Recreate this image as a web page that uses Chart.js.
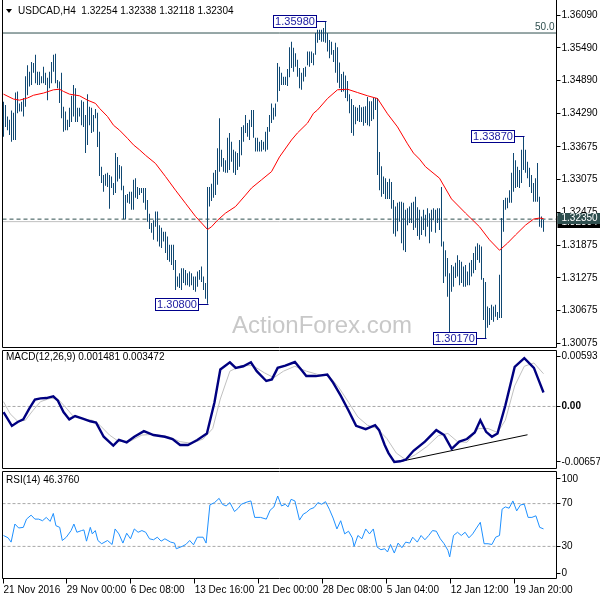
<!DOCTYPE html>
<html>
<head>
<meta charset="utf-8">
<title>USDCAD H4</title>
<script src="https://cdn.jsdelivr.net/npm/chart.js@4.4.1/dist/chart.umd.min.js"></script>
<style>
html,body{margin:0;padding:0;background:#fff;}
body{width:600px;height:600px;position:relative;overflow:hidden;}
canvas{position:absolute;left:0;display:block;}
</style>
</head>
<body>
<canvas id="cMain" width="600" height="348" style="top:0"></canvas>
<canvas id="cMacd" width="600" height="122" style="top:348px"></canvas>
<canvas id="cRsi" width="600" height="130" style="top:470px"></canvas>
<script>
const FONT = '"Liberation Sans", Arial, sans-serif';
Chart.defaults.font.family = FONT;
Chart.defaults.font.size = 10;
Chart.defaults.color = '#000';

// ---------- data ----------
const symbolTitle = 'USDCAD,H4';
const lastOHLC = ['1.32254', '1.32338', '1.32118', '1.32304'];

const highs = [
1.3450,1.3444,1.3423,1.3417,1.3434,1.3430,1.3467,1.3469,1.3447,1.3450,
1.3457,1.3497,1.3517,1.3505,1.3523,1.3521,1.3536,1.3505,1.3505,1.3497,
1.3514,1.3503,1.3494,1.3505,1.3523,1.3536,1.3538,1.3490,1.3487,1.3503,
1.3441,1.3432,1.3417,1.3439,1.3461,1.3481,1.3475,1.3439,1.3439,1.3453,
1.3450,1.3426,1.3464,1.3441,1.3439,1.3426,1.3437,1.3430,1.3395,1.3331,
1.3316,1.3318,1.3320,1.3316,1.3313,1.3301,1.3356,1.3349,1.3334,1.3332,
1.3296,1.3279,1.3281,1.3285,1.3285,1.3307,1.3310,1.3294,1.3292,1.3292,
1.3292,1.3292,1.3270,1.3245,1.3228,1.3233,1.3249,1.3249,1.3224,1.3219,
1.3212,1.3212,1.3203,1.3188,1.3188,1.3188,1.3160,1.3130,1.3136,1.3145,
1.3145,1.3142,1.3136,1.3139,1.3136,1.3130,1.3130,1.3139,1.3142,1.3148,
1.3130,1.3118,1.3294,1.3294,1.3300,1.3320,1.3325,1.3365,1.3420,1.3362,
1.3347,1.3343,1.3384,1.3393,1.3377,1.3362,1.3359,1.3356,1.3380,1.3404,
1.3407,1.3426,1.3411,1.3417,1.3435,1.3435,1.3384,1.3384,1.3377,1.3380,
1.3377,1.3395,1.3404,1.3426,1.3447,1.3439,1.3447,1.3521,1.3514,1.3503,
1.3496,1.3496,1.3510,1.3550,1.3560,1.3549,1.3539,1.3527,1.3512,1.3503,
1.3512,1.3514,1.3542,1.3542,1.3542,1.3539,1.3576,1.3582,1.3582,1.3582,
1.3585,1.3598,1.3576,1.3563,1.3560,1.3545,1.3558,1.3550,1.3522,1.3501,
1.3505,1.3498,1.3488,1.3464,1.3455,1.3444,1.3441,1.3439,1.3444,1.3440,
1.3441,1.3442,1.3459,1.3451,1.3451,1.3457,1.3457,1.3457,1.3358,1.3332,
1.3313,1.3310,1.3303,1.3309,1.3303,1.3270,1.3258,1.3265,1.3267,1.3267,
1.3265,1.3252,1.3255,1.3258,1.3265,1.3267,1.3276,1.3257,1.3252,1.3240,
1.3252,1.3243,1.3255,1.3246,1.3252,1.3255,1.3252,1.3255,1.3255,1.3294,
1.3194,1.3178,1.3164,1.3136,1.3151,1.3148,1.3155,1.3169,1.3160,1.3157,
1.3148,1.3151,1.3139,1.3155,1.3160,1.3173,1.3185,1.3191,1.3188,1.3185,
1.3127,1.3120,1.3075,1.3072,1.3078,1.3075,1.3078,1.3065,1.3133,1.3237,
1.3270,1.3274,1.3274,1.3288,1.3320,1.3356,1.3343,1.3331,1.3325,1.3362,
1.3387,1.3362,1.3340,1.3329,1.3316,1.3301,1.3310,1.3338,1.3276,1.3240,
1.3234];

const lows = [
1.3386,1.3404,1.3398,1.3389,1.3377,1.3380,1.3380,1.3429,1.3432,1.3432,
1.3423,1.3441,1.3462,1.3478,1.3481,1.3503,1.3484,1.3481,1.3481,1.3484,
1.3484,1.3481,1.3453,1.3475,1.3484,1.3505,1.3484,1.3475,1.3448,1.3420,
1.3395,1.3398,1.3398,1.3404,1.3413,1.3423,1.3413,1.3413,1.3423,1.3407,
1.3404,1.3356,1.3371,1.3407,1.3393,1.3395,1.3420,1.3367,1.3314,1.3301,
1.3285,1.3296,1.3294,1.3254,1.3292,1.3279,1.3283,1.3304,1.3309,1.3288,
1.3235,1.3235,1.3265,1.3263,1.3252,1.3252,1.3274,1.3272,1.3279,1.3283,
1.3265,1.3252,1.3230,1.3217,1.3210,1.3197,1.3221,1.3194,1.3185,1.3182,
1.3194,1.3173,1.3160,1.3157,1.3151,1.3142,1.3105,1.3111,1.3109,1.3105,
1.3118,1.3114,1.3114,1.3111,1.3114,1.3105,1.3102,1.3111,1.3124,1.3120,
1.3105,1.3089,1.3080,1.3258,1.3268,1.3274,1.3279,1.3298,1.3322,1.3331,
1.3322,1.3320,1.3320,1.3325,1.3340,1.3320,1.3316,1.3325,1.3331,1.3352,
1.3377,1.3393,1.3386,1.3380,1.3404,1.3384,1.3359,1.3359,1.3359,1.3359,
1.3362,1.3359,1.3362,1.3395,1.3411,1.3417,1.3423,1.3450,1.3470,1.3481,
1.3481,1.3481,1.3479,1.3495,1.3512,1.3505,1.3514,1.3496,1.3475,1.3472,
1.3487,1.3496,1.3517,1.3514,1.3521,1.3517,1.3536,1.3558,1.3563,1.3560,
1.3560,1.3558,1.3542,1.3530,1.3536,1.3523,1.3503,1.3485,1.3475,1.3468,
1.3469,1.3457,1.3451,1.3429,1.3393,1.3388,1.3409,1.3415,1.3413,1.3413,
1.3406,1.3411,1.3407,1.3405,1.3415,1.3418,1.3435,1.3316,1.3288,1.3276,
1.3281,1.3272,1.3272,1.3272,1.3254,1.3208,1.3203,1.3213,1.3230,1.3191,
1.3178,1.3175,1.3224,1.3228,1.3228,1.3215,1.3219,1.3204,1.3197,1.3206,
1.3215,1.3203,1.3221,1.3191,1.3212,1.3233,1.3210,1.3228,1.3215,1.3185,
1.3118,1.3130,1.3093,1.3026,1.3102,1.3111,1.3127,1.3130,1.3114,1.3118,
1.3111,1.3111,1.3114,1.3114,1.3130,1.3136,1.3142,1.3160,1.3155,1.3124,
1.3050,1.3017,1.3036,1.3041,1.3050,1.3047,1.3056,1.3050,1.3054,1.3054,
1.3212,1.3252,1.3255,1.3265,1.3265,1.3285,1.3292,1.3294,1.3292,1.3301,
1.3325,1.3320,1.3310,1.3294,1.3283,1.3267,1.3267,1.3267,1.3221,1.3219,
1.3212];

// moving average (red) read at these bar positions
const maIdx = [0,5,8,12,15,20,25,28,30,33,38,42,46,48,52,55,58,62,65,68,71,76,81,86,91,96,99,102,104,107,111,116,121,124,129,134,138,144,147,152,155,157,162,167,172,177,182,187,192,197,202,205,208,211,218,224,231,238,243,248,252,256,261,265,268,270];
const maVal = [1.3464,1.3455,1.3453,1.3457,1.3462,1.3466,1.3472,1.3473,1.3469,1.3464,1.3461,1.3453,1.3447,1.3438,1.3423,1.3407,1.3398,1.3383,1.3371,1.3362,1.3352,1.3337,1.3313,1.3288,1.3264,1.3240,1.3228,1.3216,1.3221,1.3233,1.3246,1.3258,1.3279,1.3292,1.3307,1.3322,1.3349,1.3380,1.3393,1.3411,1.3429,1.3435,1.3456,1.3472,1.3473,1.3467,1.3461,1.3456,1.3428,1.3404,1.3373,1.3356,1.3345,1.3331,1.3310,1.3272,1.3246,1.3221,1.3197,1.3178,1.3191,1.3206,1.3224,1.3235,1.3237,1.3236];

// MACD main line
const macdIdx = [0,4.2,7.1,9.9,12.8,15.7,18.5,21.4,24.9,27.2,30,32.9,35.8,39.6,43.4,46.3,50.1,54.9,57.7,61.6,65.4,70.2,75,80.7,84.5,88.3,92.2,96.9,101.7,105.5,108.4,113.2,116.1,119.9,123.7,126.6,131.4,134.2,137.1,140.9,145.7,149.5,151.4,156.2,161.9,164.8,168.6,172.5,176.3,181.1,185.8,187.8,190.6,192.5,195.4,198.3,201.1,205,210.7,216.4,220.3,224.1,227.9,231.7,235.6,238.4,241.3,244.2,247,250.9,255.6,260.4,265.2,267.1,270];
const macdVal = [-0.00060,-0.00206,-0.00164,-0.00137,-0.00025,0.00072,0.00086,0.00089,0.00107,0.00061,-0.00060,-0.00137,-0.00102,-0.00130,-0.00157,-0.00171,-0.00321,-0.00414,-0.00355,-0.00380,-0.00321,-0.00262,-0.00303,-0.00321,-0.00345,-0.00408,-0.00408,-0.00355,-0.00286,0.00044,0.00392,0.00468,0.00409,0.00426,0.00468,0.00374,0.00270,0.00287,0.00409,0.00433,0.00471,0.00374,0.00322,0.00322,0.00339,0.00253,0.00114,-0.00043,-0.00206,-0.00241,-0.00199,-0.00251,-0.00408,-0.00494,-0.00588,-0.00581,-0.00564,-0.00470,-0.00373,-0.00251,-0.00303,-0.00449,-0.00373,-0.00345,-0.00276,-0.00147,-0.00269,-0.00321,-0.00286,0.00009,0.00419,0.00513,0.00409,0.00305,0.001481];

// MACD signal line
const sigIdx = [0,3.3,7.1,10.9,14.7,18.5,23.3,27.2,31,34.8,39.6,44.4,48.2,53,57.7,63.5,69.2,75,82.6,88.3,94.1,99.8,104.6,108.4,113.2,118.9,124.7,130.4,135.2,140,145.7,151.4,157.2,162.9,167.7,172.5,177.2,182,186.8,191.6,196.4,201.1,205.9,211.7,217.4,222.2,227,231.7,237.5,242.3,247,250.9,255.6,260.4,265.2,270];
const sigVal = [0.00051,-0.00077,-0.00157,-0.00147,-0.00043,0.00051,0.00086,0.00079,-0.00008,-0.00102,-0.00130,-0.00147,-0.00199,-0.00303,-0.00373,-0.00366,-0.00303,-0.00296,-0.00321,-0.00373,-0.00390,-0.00345,-0.00234,0.00079,0.00374,0.00433,0.00433,0.00357,0.00305,0.00374,0.00426,0.00374,0.00339,0.00322,0.00200,0.00044,-0.00112,-0.00199,-0.00234,-0.00338,-0.00494,-0.00564,-0.00512,-0.00425,-0.00310,-0.00286,-0.00373,-0.00380,-0.00234,-0.00234,-0.00276,-0.00147,0.00218,0.00426,0.00461,0.003472];

// trend line drawn on the MACD window
const macdTrendIdx = [199, 262];
const macdTrendVal = [-0.0058, -0.0030];

// RSI(14)
const rsiIdx = [0,2.3,3.8,5.7,7.6,9.9,11.5,13.8,15.7,17.6,19.5,21.4,23.3,24.9,26.2,28.1,29.4,31.4,33.8,35.2,36.7,39,40.2,41.5,43.4,44.4,45.9,47.2,49.1,52,54.3,55.8,57.7,59.7,61.6,63.5,65.4,67.3,69.2,71.1,73,75,76.9,78.8,80.7,83.6,85.5,86.4,89.3,91.2,93.1,95,96.9,99.8,101.3,103.2,105.5,107.8,109.4,111.3,113.2,115.5,117.4,118.9,121.8,123.7,125.6,128.5,131.4,133.3,135.2,137.1,139,140.9,142.3,143.8,145.7,148,149.9,151.4,153.3,155.3,157.2,159.1,161,162.9,164.8,166.7,168.6,170.6,172.5,174.4,175.3,177.2,179.2,181.1,183,184.9,186.8,188.7,190.6,192,193.5,195.4,197.3,199.2,201.1,203.1,204.6,206.9,208.8,210.7,212.6,214.5,216.4,218.4,220.3,222.2,223.1,225,227,228.9,230.8,232.7,234.6,236.5,238.4,240.3,242.3,244.2,246.1,248,249.3,250.9,252.8,254.7,256.6,258.5,260.4,262.3,264.2,266.2,268.1,270];
const rsiVal = [40.2,38.0,34.0,50.9,47.2,47.8,55.5,59.2,55.5,55.5,54.0,57.1,53.4,60.8,49.4,47.8,35.5,38.6,44.8,50.9,43.2,44.8,45.4,34.9,47.8,41.7,44.8,35.5,32.5,35.5,31.8,46.3,41.7,33.1,42.3,37.1,46.3,43.2,44.8,43.2,37.1,36.2,38.6,34.9,37.1,34.0,33.1,27.8,30.0,31.8,35.5,31.5,38.6,38.6,33.1,68.8,70.9,74.9,69.4,67.8,70.9,62.6,65.7,69.4,71.5,72.5,57.1,57.1,55.5,63.8,66.9,77.1,67.8,69.4,66.9,74.0,72.5,54.6,60.2,61.7,64.8,66.3,70.9,69.4,71.8,64.8,56.5,46.3,54.0,41.7,44.2,38.0,30.0,40.2,37.1,46.3,41.7,46.3,29.4,26.9,27.8,24.8,31.8,23.8,33.1,28.8,34.0,33.1,38.6,34.0,40.2,36.2,40.2,44.8,44.2,37.1,32.5,26.3,20.2,40.2,43.2,40.2,43.2,38.0,41.7,47.2,52.5,32.5,32.5,31.8,38.6,40.2,64.8,66.9,65.7,72.5,63.2,68.8,69.4,57.1,57.1,58.6,47.8,46.376];

// axis ticks
const priceTicks = [1.36090,1.35490,1.34890,1.34290,1.33675,1.33075,1.32475,1.31875,1.31275,1.30675,1.30075];
const priceMin = 1.29998, priceMax = 1.36356;
const timeTickIdx = [0,31.6,63.6,95.6,127.6,159.6,191.6,223.6,255.6];
const timeLabels = ['21 Nov 2016','29 Nov 00:00','6 Dec 08:00','13 Dec 16:00','21 Dec 00:00','28 Dec 08:00','5 Jan 04:00','12 Jan 12:00','19 Jan 20:00'];
const macdMin = -0.006575, macdMax = 0.00593;
const macdTickVals = [0.005294, 0, -0.005886];
const macdTickLabels = ['0.00593', '0.00', '-0.006575'];
const rsiTickVals = [93, 70, 30, 5];
const rsiTickLabels = ['100', '70', '30', '0'];
const rsiLevels = [70, 30];

// annotations
const swingIdx = [161, 102, 241, 260];
const swingPrice = [1.3598, 1.3080, 1.3017, 1.3387];
const swingText = ['1.35980', '1.30800', '1.30170', '1.33870'];
const hLevel = 1.32350, hLevelText = '1.32350';
const bidPrice = 1.32304, bidText = '1.32304';
const fibLevel = 1.3576, fibText = '50.0';
const watermark = 'ActionForex.com';

// ---------- helpers ----------
const X_MIN = -0.5, X_MAX = 276.5;
const AXIS_W = 43.5;
const BAR_COLOR = '#104872';

function xAxis(show) {
  return {
    type: 'linear', min: X_MIN, max: X_MAX, offset: false, display: show,
    grid: { offset: false, drawOnChartArea: false, tickLength: 5, color: '#000' },
    border: { display: false },
    afterBuildTicks: s => { s.ticks = timeTickIdx.map(v => ({ value: v })); },
    afterFit: s => { s.paddingLeft = 0; s.paddingRight = 0; if (show) s.height = 21.5; },
    ticks: { autoSkip: false, maxRotation: 0, minRotation: 0, align: 'start', padding: 1, color: '#000',
      font: { size: 10 }, callback: (v, i) => timeLabels[i] }
  };
}
function yAxis(min, max, vals, fmt) {
  return {
    position: 'right', min, max,
    grid: { drawOnChartArea: false, tickLength: 4, color: '#000' },
    border: { display: false },
    afterBuildTicks: s => { s.ticks = vals.map(v => ({ value: v })); },
    afterFit: s => { s.width = AXIS_W; s.paddingTop = 0; s.paddingBottom = 0; },
    ticks: { autoSkip: false, padding: 1, color: '#000',
      font: ctx => ({ size: 10, weight: (ctx.tick && ctx.tick.value === 0) ? 'bold' : 'normal' }),
      callback: fmt }
  };
}
function framePlugin(withTop) {
  return {
    id: 'frame',
    afterDraw(chart) {
      const a = chart.chartArea, c = chart.ctx;
      c.save(); c.strokeStyle = '#000'; c.lineWidth = 1;
      c.beginPath();
      if (withTop) { c.moveTo(a.left, a.top); c.lineTo(a.right, a.top); }
      c.moveTo(a.left, withTop ? a.top : 0); c.lineTo(a.left, a.bottom); c.lineTo(a.right, a.bottom);
      c.lineTo(a.right, withTop ? a.top : 0);
      c.stroke();
      c.restore();
    }
  };
}
function hline(x0, x1, v, color, dash, order) {
  return { type: 'line', data: [{ x: x0, y: v }, { x: x1, y: v }], borderColor: color, borderWidth: 1,
    borderDash: dash || [], pointRadius: 0, order: order };
}
const baseOpts = {
  responsive: false, animation: false, events: [],
  plugins: { legend: { display: false }, tooltip: { enabled: false } },
  elements: { point: { radius: 0 }, line: { tension: 0 } }
};

// ---------- main price window ----------
const mainDecor = {
  id: 'mainDecor',
  beforeDatasetsDraw(chart) {
    const c = chart.ctx;
    c.save();
    c.font = '24px ' + FONT; c.fillStyle = '#c8c8c8'; c.textAlign = 'center'; c.textBaseline = 'alphabetic';
    c.fillText(watermark, 322, 333);
    c.restore();
  },
  afterDraw(chart) {
    const c = chart.ctx, xs = chart.scales.x, ys = chart.scales.y, a = chart.chartArea;
    c.save();
    // header
    c.fillStyle = '#000';
    c.beginPath(); c.moveTo(6, 9); c.lineTo(12, 9); c.lineTo(9, 13); c.closePath(); c.fill();
    c.font = '10px ' + FONT; c.textBaseline = 'middle'; c.textAlign = 'left';
    c.fillText(symbolTitle + '  ' + lastOHLC.join(' '), 18, 11.5);
    // fib label
    c.fillStyle = '#2f4f4f'; c.textAlign = 'right'; c.textBaseline = 'alphabetic';
    c.fillText(fibText, a.right - 2, ys.getPixelForValue(fibLevel) - 3);
    // price boxes on the axis
    const yb = ys.getPixelForValue(bidPrice);
    c.fillStyle = '#000'; c.fillRect(a.right + 1, Math.round(yb) - 6, 600 - a.right, 12);
    c.fillStyle = '#fff'; c.textAlign = 'left'; c.textBaseline = 'middle';
    c.fillText(bidText, a.right + 5, Math.round(yb));
    const yh = ys.getPixelForValue(hLevel);
    c.fillStyle = '#2f4f4f'; c.fillRect(a.right + 1, Math.round(yh) - 6, 600 - a.right, 11);
    c.fillStyle = '#fff'; c.fillText(hLevelText, a.right + 5, Math.round(yh) - 0.5);
    // swing labels
    for (let k = 0; k < swingIdx.length; k++) {
      const px = Math.round(xs.getPixelForValue(swingIdx[k])) + 0.5;
      const py = Math.round(ys.getPixelForValue(swingPrice[k])) + 0.5;
      const w = 43, h = 12, right = px - 10;
      c.fillStyle = '#fff'; c.fillRect(right - w, py - h / 2, w, h);
      c.strokeStyle = '#00008b'; c.lineWidth = 1; c.strokeRect(right - w, py - h / 2, w, h);
      c.beginPath(); c.moveTo(right, py); c.lineTo(px, py); c.stroke();
      c.fillStyle = '#1a1aa0'; c.textAlign = 'center'; c.textBaseline = 'middle';
      c.font = '11px ' + FONT;
      c.fillText(swingText[k], right - w / 2, py + 0.5);
      c.font = '10px ' + FONT;
    }
    c.restore();
  }
};

new Chart(document.getElementById('cMain'), {
  type: 'bar',
  data: { datasets: [
    { type: 'line', data: maIdx.map((x, k) => ({ x, y: maVal[k] })), borderColor: '#ff0000', borderWidth: 1, pointRadius: 0, order: 0 },
    { type: 'bar', data: highs.map((h, i) => ({ x: i, y: [lows[i], h] })), backgroundColor: BAR_COLOR,
      borderWidth: 0, barThickness: 1, inflateAmount: 0, grouped: false, order: 1 },
    hline(X_MIN, X_MAX, hLevel, '#2f4f4f', [4, 3], 3),
    hline(X_MIN, X_MAX, bidPrice, '#c0c0c0', [], 4),
    hline(X_MIN, X_MAX, fibLevel, '#2f4f4f', [], 3)
  ]},
  options: Object.assign({}, baseOpts, {
    layout: { padding: { left: 2.5, top: 0.5, bottom: 0.5, right: 0 } },
    scales: { x: xAxis(false), y: yAxis(priceMin, priceMax, priceTicks, v => v.toFixed(5)) }
  }),
  plugins: [mainDecor, framePlugin(false)]
});

// ---------- MACD window ----------
const macdDecor = {
  id: 'macdDecor',
  afterDraw(chart) {
    const c = chart.ctx;
    c.save(); c.fillStyle = '#000'; c.font = '10px ' + FONT; c.textBaseline = 'middle';
    c.fillText('MACD(12,26,9) ' + macdVal[macdVal.length - 1].toFixed(6) + ' ' + sigVal[sigVal.length - 1].toFixed(6), 6, 9.5);
    c.restore();
  }
};
new Chart(document.getElementById('cMacd'), {
  type: 'line',
  data: { datasets: [
    { data: macdIdx.map((x, k) => ({ x, y: macdVal[k] })), borderColor: '#000080', borderWidth: 2.4, pointRadius: 0, order: 0 },
    { data: sigIdx.map((x, k) => ({ x, y: sigVal[k] })), borderColor: '#c0c0c0', borderWidth: 1, pointRadius: 0, order: 1 },
    hline(X_MIN, X_MAX, 0, '#a8a8a8', [3, 2], 3),
    { data: macdTrendIdx.map((x, k) => ({ x, y: macdTrendVal[k] })), borderColor: '#000', borderWidth: 1, pointRadius: 0, order: 2 }
  ]},
  options: Object.assign({}, baseOpts, {
    layout: { padding: { left: 2.5, top: 2.5, bottom: 1.5, right: 0 } },
    scales: { x: xAxis(false), y: yAxis(macdMin, macdMax, macdTickVals, v => macdTickLabels[macdTickVals.indexOf(v)]) }
  }),
  plugins: [macdDecor, framePlugin(true)]
});

// ---------- RSI window ----------
const rsiDecor = {
  id: 'rsiDecor',
  afterDraw(chart) {
    const c = chart.ctx;
    c.save(); c.fillStyle = '#000'; c.font = '10px ' + FONT; c.textBaseline = 'middle';
    c.fillText('RSI(14) ' + rsiVal[rsiVal.length - 1].toFixed(4), 6, 10);
    c.restore();
  }
};
new Chart(document.getElementById('cRsi'), {
  type: 'line',
  data: { datasets: [
    { data: rsiIdx.map((x, k) => ({ x, y: rsiVal[k] })), borderColor: '#1e90ff', borderWidth: 1, pointRadius: 0, order: 0 },
    hline(X_MIN, X_MAX, rsiLevels[0], '#a8a8a8', [3, 2], 2),
    hline(X_MIN, X_MAX, rsiLevels[1], '#a8a8a8', [3, 2], 2)
  ]},
  options: Object.assign({}, baseOpts, {
    layout: { padding: { left: 2.5, top: 1.5, bottom: 0, right: 0 } },
    scales: { x: xAxis(true), y: yAxis(0, 100, rsiTickVals, v => rsiTickLabels[rsiTickVals.indexOf(v)]) }
  }),
  plugins: [rsiDecor, framePlugin(true)]
});
</script>
</body>
</html>
